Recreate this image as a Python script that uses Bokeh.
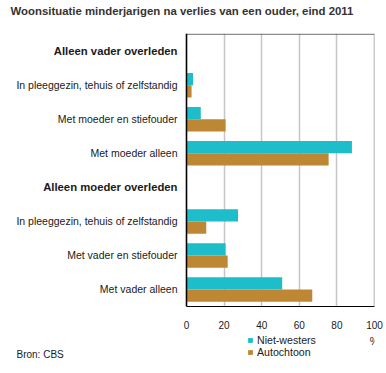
from bokeh.plotting import figure
from bokeh.layouts import column
from bokeh.models import Range1d, Label, Legend, LegendItem, FixedTicker, ColumnDataSource, Span
from bokeh.core.properties import value
from bokeh.embed import file_html
from bokeh.resources import INLINE

title = "Woonsituatie minderjarigen na verlies van een ouder, eind 2011"
rows = ["Alleen vader overleden",
        "In pleeggezin, tehuis of zelfstandig",
        "Met moeder en stiefouder",
        "Met moeder alleen",
        "Alleen moeder overleden",
        "In pleeggezin, tehuis of zelfstandig",
        "Met vader en stiefouder",
        "Met vader alleen"]
is_header = [True, False, False, False, True, False, False, False]
bar_rows = [1, 2, 3, 5, 6, 7]
niet_westers = [3.5, 7.6, 88.0, 27.4, 20.8, 50.9]
autochtoon = [2.7, 20.8, 75.6, 10.5, 21.9, 66.9]
x_ticks = [0, 20, 40, 60, 80, 100]
series_names = ["Niet-westers", "Autochtoon"]
source_note = "Bron: CBS"
unit = "%"
colors = ["#1dbdc9", "#bd8734"]
FONT = "Liberation Sans"
TXT = "#1a1a1a"

W, H_TITLE, H_MAIN, H_FOOT = 386, 20, 312, 41
LABEL_W = 186          # room for category labels, px
FRAME_W = 374          # plot area right edge
x_min, x_max = x_ticks[0], x_ticks[-1]
x_start = x_min - (x_max - x_min) * LABEL_W / (FRAME_W - LABEL_W)
xr = Range1d(x_start, x_max)


def blank(height):
    fig = figure(width=W, height=height, output_backend="svg", toolbar_location=None,
                 x_range=Range1d(0, 1), y_range=Range1d(1000, 1001),
                 min_border_left=0, min_border_right=0, min_border_top=0,
                 min_border_bottom=0)
    fig.axis.visible = False
    fig.grid.visible = False
    fig.outline_line_color = None
    return fig


# title strip
t = blank(H_TITLE)
t.add_layout(Label(x=10, y=H_TITLE - 10.5, x_units="screen", y_units="screen", text=title,
                   text_align="left", text_baseline="middle", text_font=FONT,
                   text_font_size="11.4px", text_font_style="bold", text_color="#333333"))

# main chart
p = figure(width=W, height=H_MAIN, output_backend="svg", toolbar_location=None,
           x_range=xr, y_range=Range1d(len(rows) - 0.5, -0.52),
           min_border_left=0, min_border_right=W - FRAME_W, min_border_top=33 - H_TITLE,
           min_border_bottom=H_MAIN - (306 - H_TITLE))
p.outline_line_color = None
p.background_fill_color = "white"
p.border_fill_color = "white"

p.yaxis.visible = False
p.ygrid.visible = False
p.xgrid.ticker = FixedTicker(ticks=x_ticks[:-1])
p.xgrid.grid_line_color = "#c6c6c6"
p.xgrid.grid_line_width = 1.5
xa = p.xaxis[0]
xa.ticker = FixedTicker(ticks=x_ticks)
xa.bounds = (x_min, x_max)
xa.axis_line_color = "black"
xa.major_tick_line_color = None
xa.minor_tick_line_color = None
xa.major_label_standoff = 8
xa.major_label_text_font = FONT
xa.major_label_text_font_size = "10px"
xa.major_label_text_color = TXT

# borders of the plot area
p.add_layout(Span(location=x_max, dimension="height", line_color="#999999", line_width=1.5))
p.add_layout(Span(location=x_min, dimension="height", line_color="black", line_width=1.5))
p.segment(x0=[x_min], x1=[x_max], y0=[-0.5], y1=[-0.5], line_color="#555555", line_width=1)

bh = 0.36
src_nw = ColumnDataSource(dict(y=[r - bh / 2 for r in bar_rows], v=niet_westers))
src_au = ColumnDataSource(dict(y=[r + bh / 2 for r in bar_rows], v=autochtoon))
p.hbar(y="y", right="v", left=0, height=bh, source=src_nw,
       fill_color=colors[0], line_color=None)
p.hbar(y="y", right="v", left=0, height=bh, source=src_au,
       fill_color=colors[1], line_color=None)

lab_src = ColumnDataSource(dict(x=[x_min] * len(rows), y=list(range(len(rows))), t=rows,
                                st=["bold" if h else "normal" for h in is_header],
                                fs=["11.3px" if h else "10.5px" for h in is_header]))
p.text(x="x", y="y", text="t", source=lab_src, x_offset=-9, text_align="right",
       text_baseline="middle", text_font=value(FONT), text_font_size="fs",
       text_font_style="st", text_color=TXT)

# footer: legend, unit and source
f = blank(H_FOOT)
r1 = f.hbar(y="y", right="v", left=0, height=bh, source=src_nw,
            fill_color=colors[0], line_color=None)
r2 = f.hbar(y="y", right="v", left=0, height=bh, source=src_au,
            fill_color=colors[1], line_color=None)
legend = Legend(items=[LegendItem(label=series_names[0], renderers=[r1]),
                       LegendItem(label=series_names[1], renderers=[r2])],
                location=(247, 15), orientation="vertical",
                glyph_width=6, glyph_height=6, label_height=11, label_standoff=4,
                spacing=0, padding=0, margin=0, border_line_color=None,
                background_fill_alpha=0, label_text_font=FONT,
                label_text_font_size="10.6px", label_text_color=TXT)
f.add_layout(legend, "center")
f.add_layout(Label(x=16, y=19, x_units="screen", y_units="screen", text=source_note,
                   text_align="left", text_baseline="middle", text_font=FONT,
                   text_font_size="10px", text_color=TXT))
f.add_layout(Label(x=374, y=33, x_units="screen", y_units="screen", text=unit,
                   text_align="center", text_baseline="middle", text_font=FONT,
                   text_font_size="10.5px", text_color=TXT))

lay = column(t, p, f, spacing=0)
open("out.html", "w").write(file_html(lay, INLINE))
